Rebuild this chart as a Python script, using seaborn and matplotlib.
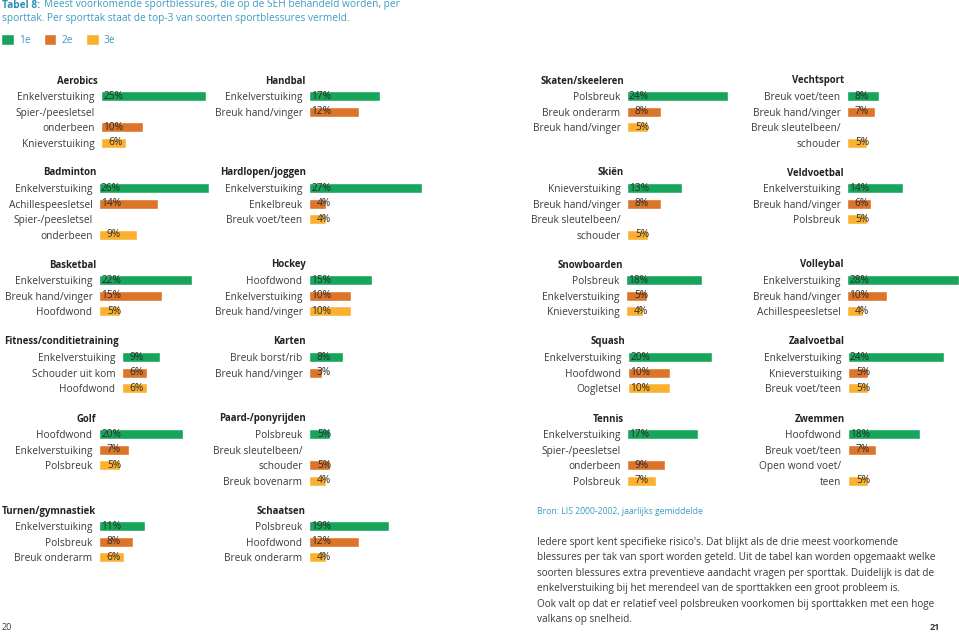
import numpy as np
import pandas as pd
import seaborn as sns
import matplotlib.pyplot as plt

# ---- data: top-3 blessures per sporttak (percentages) ----
aerobics_blessures = ["Enkelverstuiking", "Spier-/peesletsel\nonderbeen", "Knieverstuiking"]
aerobics_pct = [25, 10, 6]
badminton_blessures = ["Enkelverstuiking", "Achillespeesletsel", "Spier-/peesletsel\nonderbeen"]
badminton_pct = [26, 14, 9]
basketbal_blessures = ["Enkelverstuiking", "Breuk hand/vinger", "Hoofdwond"]
basketbal_pct = [22, 15, 5]
fitness_blessures = ["Enkelverstuiking", "Schouder uit kom", "Hoofdwond"]
fitness_pct = [9, 6, 6]
golf_blessures = ["Hoofdwond", "Enkelverstuiking", "Polsbreuk"]
golf_pct = [20, 7, 5]
turnen_blessures = ["Enkelverstuiking", "Polsbreuk", "Breuk onderarm"]
turnen_pct = [11, 8, 6]

handbal_blessures = ["Enkelverstuiking", "Breuk hand/vinger"]
handbal_pct = [17, 12]
hardlopen_blessures = ["Enkelverstuiking", "Enkelbreuk", "Breuk voet/teen"]
hardlopen_pct = [27, 4, 4]
hockey_blessures = ["Hoofdwond", "Enkelverstuiking", "Breuk hand/vinger"]
hockey_pct = [15, 10, 10]
karten_blessures = ["Breuk borst/rib", "Breuk hand/vinger"]
karten_pct = [8, 3]
paard_blessures = ["Polsbreuk", "Breuk sleutelbeen/\nschouder", "Breuk bovenarm"]
paard_pct = [5, 5, 4]
schaatsen_blessures = ["Polsbreuk", "Hoofdwond", "Breuk onderarm"]
schaatsen_pct = [19, 12, 4]

skaten_blessures = ["Polsbreuk", "Breuk onderarm", "Breuk hand/vinger"]
skaten_pct = [24, 8, 5]
skien_blessures = ["Knieverstuiking", "Breuk hand/vinger", "Breuk sleutelbeen/\nschouder"]
skien_pct = [13, 8, 5]
snowboarden_blessures = ["Polsbreuk", "Enkelverstuiking", "Knieverstuiking"]
snowboarden_pct = [18, 5, 4]
squash_blessures = ["Enkelverstuiking", "Hoofdwond", "Oogletsel"]
squash_pct = [20, 10, 10]
tennis_blessures = ["Enkelverstuiking", "Spier-/peesletsel\nonderbeen", "Polsbreuk"]
tennis_pct = [17, 9, 7]

vechtsport_blessures = ["Breuk voet/teen", "Breuk hand/vinger", "Breuk sleutelbeen/\nschouder"]
vechtsport_pct = [8, 7, 5]
veldvoetbal_blessures = ["Enkelverstuiking", "Breuk hand/vinger", "Polsbreuk"]
veldvoetbal_pct = [14, 6, 5]
volleybal_blessures = ["Enkelverstuiking", "Breuk hand/vinger", "Achillespeesletsel"]
volleybal_pct = [28, 10, 4]
zaalvoetbal_blessures = ["Enkelverstuiking", "Knieverstuiking", "Breuk voet/teen"]
zaalvoetbal_pct = [24, 5, 5]
zwemmen_blessures = ["Hoofdwond", "Breuk voet/teen", "Open wond voet/\nteen"]
zwemmen_pct = [18, 7, 5]

rangen = ["1e", "2e", "3e"]
kleuren = ["#16a55b", "#dc742a", "#fbb12f"]

# ---- layout (pixels): bar start, pixels per percent ----
col_scale = [4.22, 4.2, 4.2, 4.0]
row_y = [81, 173, 265, 342, 419, 511]

panels = [
    (0, 101, 0, "Aerobics", aerobics_blessures, aerobics_pct),
    (0, 99, 1, "Badminton", badminton_blessures, badminton_pct),
    (0, 99, 2, "Basketbal", basketbal_blessures, basketbal_pct),
    (0, 122, 3, "Fitness/conditietraining", fitness_blessures, fitness_pct),
    (0, 99, 4, "Golf", golf_blessures, golf_pct),
    (0, 99, 5, "Turnen/gymnastiek", turnen_blessures, turnen_pct),
    (1, 309, 0, "Handbal", handbal_blessures, handbal_pct),
    (1, 309, 1, "Hardlopen/joggen", hardlopen_blessures, hardlopen_pct),
    (1, 309, 2, "Hockey", hockey_blessures, hockey_pct),
    (1, 309, 3, "Karten", karten_blessures, karten_pct),
    (1, 309, 4, "Paard-/ponyrijden", paard_blessures, paard_pct),
    (1, 309, 5, "Schaatsen", schaatsen_blessures, schaatsen_pct),
    (2, 627, 0, "Skaten/skeeleren", skaten_blessures, skaten_pct),
    (2, 627, 1, "Skiën", skien_blessures, skien_pct),
    (2, 626, 2, "Snowboarden", snowboarden_blessures, snowboarden_pct),
    (2, 628, 3, "Squash", squash_blessures, squash_pct),
    (2, 627, 4, "Tennis", tennis_blessures, tennis_pct),
    (3, 847, 0, "Vechtsport", vechtsport_blessures, vechtsport_pct),
    (3, 847, 1, "Veldvoetbal", veldvoetbal_blessures, veldvoetbal_pct),
    (3, 847, 2, "Volleybal", volleybal_blessures, volleybal_pct),
    (3, 848, 3, "Zaalvoetbal", zaalvoetbal_blessures, zaalvoetbal_pct),
    (3, 848, 4, "Zwemmen", zwemmen_blessures, zwemmen_pct),
]

sns.set_style("white")
plt.rcParams["font.family"] = ["Open Sans", "DejaVu Sans"]
FS = 7.3
FS_TITEL = 6.9
TXT = "#3a3a3a"
BLAUW = "#3c9cc2"

W, H = 959, 635
fig = plt.figure(figsize=(W / 100, H / 100), dpi=100)
PITCH = 15.4
AX_W = 135

first = True
for col, x0, row, title, labels, values in panels:
    # one line per text line; wrapped labels get an empty line above the bar
    rows = []
    for rank, (lab, v) in enumerate(zip(labels, values)):
        parts = lab.split("\n")
        for p in parts[:-1]:
            rows.append({"regel": p, "pct": np.nan, "rang": None})
        rows.append({"regel": parts[-1], "pct": v, "rang": rangen[rank]})
    df = pd.DataFrame(rows)
    n = len(df)

    top = row_y[row] + PITCH / 2
    ax = fig.add_axes([x0 / W, 1 - (top + n * PITCH) / H, AX_W / W, n * PITCH / H])
    scale = col_scale[col]
    sns.barplot(data=df, x="pct", y="regel", hue="rang", hue_order=rangen,
                order=list(df["regel"]), palette=kleuren, saturation=1, dodge=False,
                width=0.66, errorbar=None, orient="h", legend=first, ax=ax)
    ax.set_xlim(0, AX_W / scale)
    ax.set_ylim(n - 0.5, -0.5)
    ax.set_xlabel("")
    ax.set_ylabel("")
    sns.despine(ax=ax, left=True, bottom=True)
    ax.tick_params(left=False, bottom=False, labelbottom=False, pad=1.2)
    for t in ax.get_yticklabels():
        t.set_fontsize(FS)
        t.set_color(TXT)
    for i, v in enumerate(df["pct"]):
        if not np.isnan(v):
            ax.text(22 / scale, i, f"{int(v)}%", ha="right", va="center",
                    fontsize=FS, color="#2a2a2a")
    ax.text(-3 / AX_W, -1, title, transform=ax.get_yaxis_transform(),
            ha="right", va="center", fontsize=FS_TITEL, fontweight="bold", color="#222222")

    if first:
        sns.move_legend(ax, "upper left", bbox_to_anchor=(1 / W, 1 - 34 / H),
                        bbox_transform=fig.transFigure, ncol=3, frameon=False,
                        title=None, fontsize=FS, handlelength=1.25, handleheight=1.25,
                        columnspacing=1.3, handletextpad=0.5, labelcolor=BLAUW,
                        borderaxespad=0, borderpad=0)
        first = False

# heading
fig.text(2 / W, 1 - 5 / H, "Tabel 8:", fontsize=7.3, fontweight="bold", color="#2f8fb8", va="center")
fig.text(44 / W, 1 - 5 / H, "Meest voorkomende sportblessures, die op de SEH behandeld worden, per",
         fontsize=7.3, color=BLAUW, va="center")
fig.text(2 / W, 1 - 19 / H, "sporttak. Per sporttak staat de top-3 van soorten sportblessures vermeld.",
         fontsize=7.3, color=BLAUW, va="center")

# source and text
fig.text(537 / W, 1 - 512 / H, "Bron: LIS 2000-2002, jaarlijks gemiddelde",
         fontsize=6.2, color=BLAUW, va="center")
alinea = ("Iedere sport kent specifieke risico's. Dat blijkt als de drie meest voorkomende\n"
          "blessures per tak van sport worden geteld. Uit de tabel kan worden opgemaakt welke\n"
          "soorten blessures extra preventieve aandacht vragen per sporttak. Duidelijk is dat de\n"
          "enkelverstuiking bij het merendeel van de sporttakken een groot probleem is.\n"
          "Ook valt op dat er relatief veel polsbreuken voorkomen bij sporttakken met een hoge\n"
          "valkans op snelheid.")
fig.text(537 / W, 1 - 537 / H, alinea, fontsize=7.2, color=TXT, va="top", linespacing=1.56)
fig.text(2 / W, 1 - 628 / H, "20", fontsize=6.5, color=TXT, va="center")
fig.text(930 / W, 1 - 628 / H, "21", fontsize=6.5, color=TXT, va="center", fontweight="bold")

fig.savefig("out.png", dpi=100)
